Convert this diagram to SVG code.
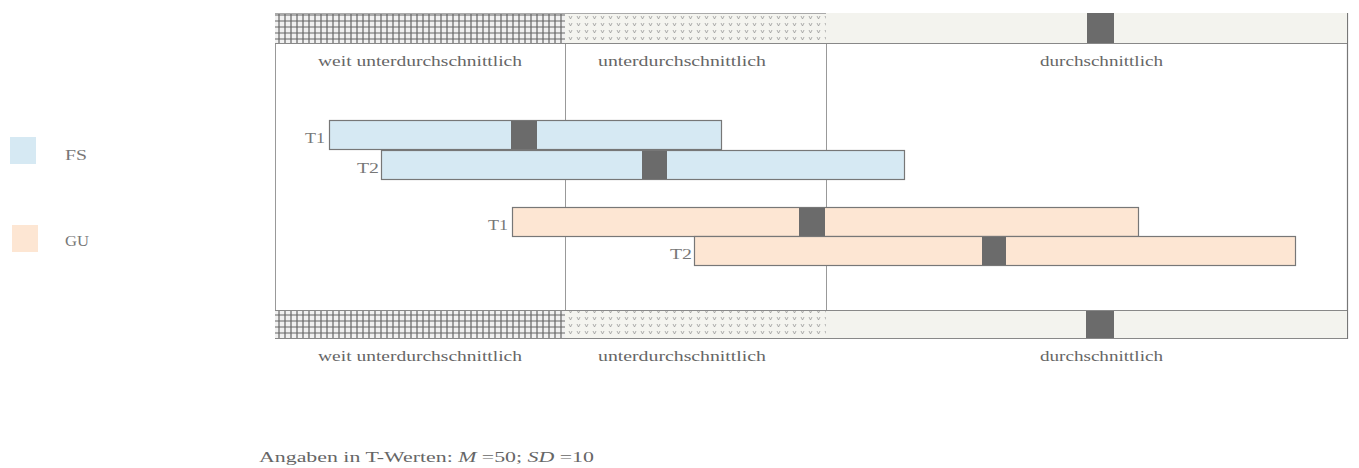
<svg xmlns="http://www.w3.org/2000/svg" width="1359" height="468" viewBox="0 0 1359 468">
<defs>
<pattern id="grid" width="6" height="6" patternUnits="userSpaceOnUse">
<rect width="6" height="6" fill="#f0f0f0"/>
<path d="M3 0V6M0 3H6" stroke="#666" stroke-width="1.2"/>
</pattern>
<pattern id="dots" width="8" height="7" patternUnits="userSpaceOnUse">
<rect width="8" height="7" fill="#f4f4ef"/>
<path d="M1 2L2.5 5L4 2" stroke="#999" stroke-width="0.8" fill="none"/>
</pattern>
<style>
.t{font-family:"Liberation Serif",serif;font-size:15px;fill:#666}
.lab{font-family:"Liberation Serif",serif;font-size:15px;fill:#777}
.vl{stroke:#999;stroke-width:1}
.fs{fill:#d6e9f3;stroke:#777;stroke-width:1.2}
.gu{fill:#fde6d3;stroke:#777;stroke-width:1.2}
.mk{fill:#6b6b6b}
.strip{stroke:#888;stroke-width:1.2}
</style>
</defs>
<g id="frame">
<line class="vl" x1="275.5" y1="13" x2="275.5" y2="339"/>
<line class="vl" x1="565.5" y1="13" x2="565.5" y2="339"/>
<line class="vl" x1="826.5" y1="13" x2="826.5" y2="339"/>
<line x1="1347.5" y1="13" x2="1347.5" y2="339" stroke="#777" stroke-width="1.2"/>
</g>
<g id="top-strip">
<rect x="275" y="13" width="290" height="30" fill="url(#grid)"/>
<rect x="565" y="13" width="261" height="30" fill="url(#dots)"/>
<rect x="826" y="13" width="521" height="30" fill="#f3f3ee"/>
<line class="strip" x1="275" y1="43.5" x2="1347" y2="43.5"/>
<line x1="275" y1="13.5" x2="826" y2="13.5" stroke="#aaa" stroke-width="1"/>
<rect class="mk" x="1087" y="13" width="27" height="30"/>
<text class="t" x="318" y="66" textLength="204" lengthAdjust="spacingAndGlyphs">weit unterdurchschnittlich</text>
<text class="t" x="598" y="66" textLength="168" lengthAdjust="spacingAndGlyphs">unterdurchschnittlich</text>
<text class="t" x="1040" y="66" textLength="123" lengthAdjust="spacingAndGlyphs">durchschnittlich</text>
</g>
<g id="bottom-strip">
<rect x="275" y="310" width="290" height="29" fill="url(#grid)"/>
<rect x="565" y="310" width="261" height="29" fill="url(#dots)"/>
<rect x="826" y="310" width="521" height="29" fill="#f3f3ee"/>
<line class="strip" x1="275" y1="310.5" x2="1347" y2="310.5"/>
<line class="strip" x1="275" y1="338.5" x2="1347" y2="338.5"/>
<rect class="mk" x="1086" y="311" width="28" height="27"/>
<text class="t" x="318" y="361" textLength="204" lengthAdjust="spacingAndGlyphs">weit unterdurchschnittlich</text>
<text class="t" x="598" y="361" textLength="168" lengthAdjust="spacingAndGlyphs">unterdurchschnittlich</text>
<text class="t" x="1040" y="361" textLength="123" lengthAdjust="spacingAndGlyphs">durchschnittlich</text>
</g>
<g id="fs-t1">
<rect class="fs" x="329.5" y="120.5" width="392" height="29"/>
<rect class="mk" x="511" y="121" width="26" height="28"/>
<text class="lab" x="305" y="143" textLength="20" lengthAdjust="spacingAndGlyphs">T1</text>
</g>
<g id="fs-t2">
<rect class="fs" x="381.5" y="150.5" width="523" height="29"/>
<rect class="mk" x="642" y="151" width="25" height="28"/>
<text class="lab" x="357" y="173" textLength="22" lengthAdjust="spacingAndGlyphs">T2</text>
</g>
<g id="gu-t1">
<rect class="gu" x="512.5" y="207.5" width="626" height="29"/>
<rect class="mk" x="799" y="208" width="26" height="28"/>
<text class="lab" x="488" y="230" textLength="20" lengthAdjust="spacingAndGlyphs">T1</text>
</g>
<g id="gu-t2">
<rect class="gu" x="694.5" y="236.5" width="601" height="29"/>
<rect class="mk" x="982" y="237" width="24" height="28"/>
<text class="lab" x="670" y="259" textLength="22" lengthAdjust="spacingAndGlyphs">T2</text>
</g>
<g id="legend">
<rect x="10" y="137" width="26" height="27" fill="#d6e9f3"/>
<text class="lab" x="65" y="160" textLength="22" lengthAdjust="spacingAndGlyphs">FS</text>
<rect x="12" y="225" width="26" height="27" fill="#fde6d3"/>
<text class="lab" x="65" y="246" textLength="24" lengthAdjust="spacingAndGlyphs">GU</text>
</g>
<g id="footer">
<text class="t" x="259" y="462" textLength="335" lengthAdjust="spacingAndGlyphs">Angaben in T-Werten: <tspan font-style="italic">M</tspan> =50; <tspan font-style="italic">SD</tspan> =10</text>
</g>
</svg>
